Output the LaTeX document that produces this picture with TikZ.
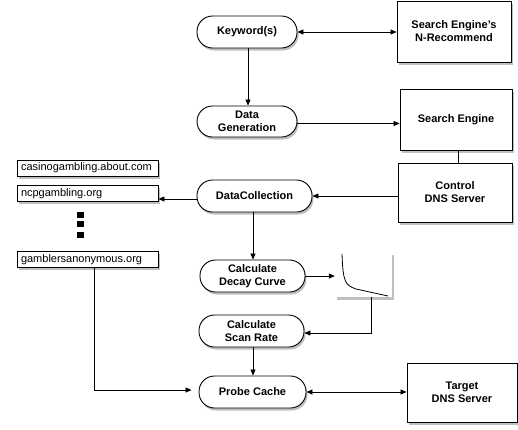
\documentclass[tikz,border=0pt]{standalone}
\usepackage{fontspec}
\setmainfont{Liberation Sans}
\usetikzlibrary{arrows.meta,shadows,calc}
\tikzset{
  shd/.style={drop shadow={shadow xshift=1.5pt,shadow yshift=-2.5pt,fill=black!55,opacity=0.45}},
  pill/.style={draw=black,line width=0.9pt,fill=white,rounded corners=15.5pt,shd,
    minimum height=32pt,inner sep=1pt,align=center,font=\fontsize{11}{13}\selectfont\bfseries},
  sqbox/.style={draw=black,line width=0.9pt,fill=white,shd,inner sep=1pt,align=center,
    font=\fontsize{11}{13}\selectfont\bfseries},
  dombox/.style={draw=black,line width=0.9pt,fill=white,shd,minimum height=16pt,
    text width=133pt,inner xsep=4pt,inner ysep=0pt,align=left,font=\fontsize{11}{13}\selectfont},
  dot/.style={fill=black,minimum width=7pt,minimum height=6pt,inner sep=0pt},
  graphbox/.style={fill=white,shd,minimum width=57pt,minimum height=45pt,inner sep=0pt},
  arr/.style={line width=0.8pt,-{Triangle[length=6pt,width=5pt]}},
  darr/.style={line width=0.8pt,{Triangle[length=6pt,width=5pt]}-{Triangle[length=6pt,width=5pt]}},
  ln/.style={line width=0.8pt}
}
\begin{document}
\begin{tikzpicture}[x=1pt,y=-1pt]
\useasboundingbox[fill=white] (0,0) rectangle (518,429);
% pills
\node[pill,minimum width=100pt] (kw) at (247,32) {Keyword(s)};
\node[pill,minimum width=100pt,minimum height=31pt] (dg) at (247,121.5) {Data\\Generation};
\node[pill,minimum width=115pt] (dc) at (254.5,196) {DataCollection};
\node[pill,minimum width=105pt] (decay) at (252.5,276) {Calculate\\Decay Curve};
\node[pill,minimum width=105pt] (scan) at (251.5,331) {Calculate\\Scan Rate};
\node[pill,minimum width=107pt] (probe) at (252.5,392) {Probe Cache};
% boxes
\node[sqbox,minimum width=114pt,minimum height=61pt] (nrec) at (454,31.5) {Search Engine's\\N-Recommend};
\node[sqbox,minimum width=112pt,minimum height=61pt] (se) at (456,119.5) {Search Engine};
\node[sqbox,minimum width=114pt,minimum height=59pt] (cdns) at (455,192.5) {Control\\DNS Server};
\node[sqbox,minimum width=110pt,minimum height=59pt] (tdns) at (462,392.5) {Target\\DNS Server};
% graph
\node[graphbox] (graph) at (363.5,274.5) {};
\draw[line width=0.8pt] (342,254) .. controls (343,282) and (345,285) .. (356,289) -- (388,296);
% domain boxes
\node[dombox] (casino) at (87.5,168) {casinogambling.about.com};
\node[dombox] (ncp) at (87.5,193.5) {ncpgambling.org};
\node[dombox] (gam) at (87.5,259.5) {gamblersanonymous.org};
\node[dot] (d1) at (80.5,214.5) {};
\node[dot] (d2) at (80.5,224) {};
\node[dot] (d3) at (80.5,234.5) {};
% connectors
\draw[darr] (kw.east) -- (kw.east -| nrec.west);
\draw[arr] ([xshift=1pt]kw.south) -- ([xshift=1pt]dg.north);
\draw[arr] ([yshift=-2pt]dg.east) -- ([yshift=-2pt]dg.east -| se.west);
\draw[ln] ([xshift=2pt]se.south) -- ([xshift=2pt]se.south |- cdns.north);
\draw[arr] (cdns.west |- dc.east) -- (dc.east);
\draw[arr] ([yshift=-3pt]dc.west) -- ([yshift=-3pt]dc.west -| ncp.east);
\draw[arr] ([xshift=-1.5pt]dc.south) -- ([xshift=-1.5pt]dc.south |- decay.north);
\draw[arr] (decay.east) -- (decay.east -| graph.west);
\draw[arr] ([xshift=7.5pt]graph.south) |- ([yshift=-2pt]scan.east);
\draw[arr] ([xshift=1.5pt]scan.south) -- ([xshift=1.5pt]scan.south |- probe.north);
\draw[arr] ([xshift=6.5pt]gam.south) |- ([xshift=-7pt,yshift=2pt]probe.west);
\draw[darr] (probe.east) -- (probe.east -| tdns.west);
\end{tikzpicture}
\end{document}
